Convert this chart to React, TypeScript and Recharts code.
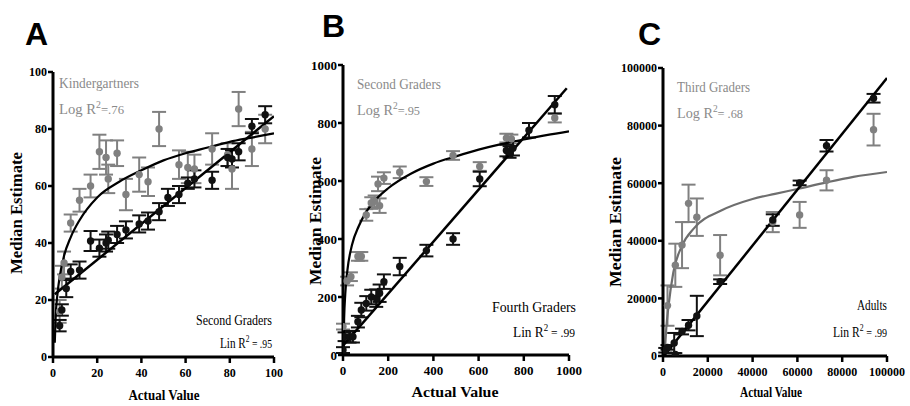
import React from "react";
import { ComposedChart, Scatter, Line, XAxis, YAxis, ErrorBar } from "recharts";

// ---- Panel A (0-100) ----
const aTicks = [0, 20, 40, 60, 80, 100];
const aKindX = [3, 4, 5, 8, 12, 17, 21, 24, 25, 29, 33, 39, 43, 48, 57, 61, 64, 72, 79, 81, 84, 90, 96];
const aKindY = [16, 28, 33, 47, 55, 60, 72, 70, 62.5, 71.5, 57, 64, 61.5, 80, 67.5, 66.5, 66, 73, 71, 66, 87, 73, 80];
const aKindErr = [4, 4, 4, 3, 4, 4, 6, 6, 5, 4.5, 5.5, 6, 5, 6, 5, 5.5, 5, 5.5, 4, 7, 6, 6, 5];
const aSecX = [3, 4, 6, 8, 12, 17, 21, 24, 25, 29, 33, 39, 43, 48, 52, 57, 61, 64, 72, 79, 81, 84, 90, 96];
const aSecY = [11, 16.5, 24, 30, 30.5, 40.7, 38.2, 40, 41, 43, 44.6, 46.7, 47.7, 51, 56, 57, 61, 62.5, 62, 70, 69.5, 72, 81, 85];
const aSecErr = [2, 2, 3, 2.5, 3, 3.5, 3, 3, 3, 3, 3, 3, 3, 3, 3, 3, 2, 3, 3, 3, 3, 3, 2.5, 3];
const aLogX = [0.8, 1.2, 2, 3, 5, 8, 12, 20, 30, 40, 50, 60, 70, 80, 90, 100];
const aLogY = [5, 14, 22, 28, 35.5, 42, 48, 56, 61.5, 65.5, 69, 71.5, 73.5, 75.5, 77, 78.5];
const aLinX = [0.8, 100];
const aLinY = [22, 84.5];

// ---- Panel B (0-1000) ----
const bTicks = [0, 200, 400, 600, 800, 1000];
const bSecX = [0, 18, 35, 66, 81, 103, 125, 140, 155, 162, 181, 251, 369, 487, 605, 723, 745, 937];
const bSecY = [98, 255, 270, 340, 340, 483, 524, 530, 590, 515, 610, 630, 598, 688, 650, 748, 745, 817];
const bSecErr = [10, 15, 15, 15, 15, 20, 20, 20, 25, 25, 20, 20, 15, 15, 15, 15, 15, 15];
const bFourX = [0, 7, 29, 44, 66, 81, 103, 125, 147, 162, 181, 251, 369, 487, 605, 723, 737, 752, 823, 937];
const bFourY = [17, 63, 63, 63, 115, 155, 178, 200, 196, 213, 253, 305, 360, 400, 607, 705, 700, 713, 775, 863];
const bFourErr = [10, 15, 20, 20, 20, 25, 25, 25, 30, 30, 25, 30, 20, 20, 25, 20, 20, 25, 25, 30];
const bLogX = [2, 5, 10, 20, 40, 70, 100, 150, 200, 300, 400, 500, 600, 700, 800, 900, 1000];
const bLogY = [15, 125, 210, 295, 380, 445, 490, 540, 575, 625, 660, 685, 708, 727, 743, 758, 771];
const bLinX = [0, 990];
const bLinY = [32, 920];

// ---- Panel C (0-100000) ----
const cTicks = [0, 20000, 40000, 60000, 80000, 100000];
const cThirdX = [2000, 5500, 8500, 11400, 15100, 25500, 49000, 61000, 73000, 94000];
const cThirdY = [17500, 31500, 38500, 53000, 48200, 35000, 46500, 49000, 61000, 78600];
const cThirdErr = [7000, 7500, 8000, 6500, 6500, 7000, 3500, 4500, 3500, 5500];
const cAdultX = [1000, 2000, 5000, 5500, 8500, 11400, 15100, 25500, 49000, 61000, 73000, 94000];
const cAdultY = [2000, 3000, 4500, 500, 8500, 10700, 13900, 25800, 47200, 60100, 73000, 89500];
const cAdultErr = [800, 800, 3500, 500, 1000, 1800, 7000, 800, 2000, 800, 2000, 1500];
const cLogX = [700, 1000, 1500, 2400, 4600, 8300, 14000, 26000, 40000, 50000, 60000, 73000, 85000, 100000];
const cLogY = [1000, 4000, 10000, 17000, 29000, 38000, 44500, 50500, 54500, 56300, 58000, 60300, 62200, 63900];
const cLinX = [400, 100000];
const cLinY = [0, 96500];

const pts = (xs: number[], ys: number[], es?: number[]) =>
  xs.map((x, i) => ({ x, y: ys[i], err: es ? es[i] : 0 }));

const serif = "Liberation Serif";
const GRAY = "#808080";
const GRAY_TXT = "#8a8a8a";

interface PanelProps {
  box: { l: number; r: number; t: number; b: number };
  max: number;
  ticks: number[];
  tickSize: number;
  gray: { x: number; y: number; err: number }[];
  black: { x: number; y: number; err: number }[];
  logCurve: { x: number; y: number }[];
  linCurve: { x: number; y: number }[];
  logColor: string;
}

function Panel({ box, max, ticks, tickSize, gray, black, logCurve, linCurve, logColor }: PanelProps) {
  const dot = (color: string) => (p: any) => <circle cx={p.cx} cy={p.cy} r={3.7} fill={color} />;
  const xTick = (p: any) => (
    <text x={p.x} y={p.y} dy="0.71em" textAnchor="middle" fontFamily={serif} fontWeight={700} fontSize={tickSize} fill="#000">
      {p.payload.value}
    </text>
  );
  const yTick = (p: any) => (
    <text x={p.x} y={p.y} dy="0.36em" textAnchor="end" fontFamily={serif} fontWeight={700} fontSize={tickSize} fill="#000">
      {p.payload.value}
    </text>
  );
  return (
    <div style={{ position: "absolute", left: box.l - 50, top: box.t - 10 }}>
      <ComposedChart
        width={box.r - box.l + 75}
        height={box.b - box.t + 50}
        margin={{ top: 10, right: 25, bottom: 0, left: 0 }}
      >
        <XAxis
          type="number"
          dataKey="x"
          domain={[0, max]}
          ticks={ticks}
          interval={0}
          allowDataOverflow
          height={40}
          axisLine={{ stroke: "#000", strokeWidth: 3 }}
          tickLine={{ stroke: "#000", strokeWidth: 2.5 }}
          tickSize={6}
          tickMargin={5}
          tick={xTick}
        />
        <YAxis
          type="number"
          dataKey="y"
          domain={[0, max]}
          ticks={ticks}
          interval={0}
          allowDataOverflow
          width={50}
          axisLine={{ stroke: "#000", strokeWidth: 3 }}
          tickLine={{ stroke: "#000", strokeWidth: 2.5 }}
          tickSize={5}
          tickMargin={1}
          tick={yTick}
        />
        <Scatter data={gray} dataKey="y" shape={dot(GRAY)} isAnimationActive={false}>
          <ErrorBar dataKey="err" direction="y" width={7} stroke={GRAY} strokeWidth={2} />
        </Scatter>
        <Scatter data={black} dataKey="y" shape={dot("#111")} isAnimationActive={false}>
          <ErrorBar dataKey="err" direction="y" width={7} stroke="#111" strokeWidth={2} />
        </Scatter>
        <Line
          data={logCurve}
          dataKey="y"
          type="monotone"
          stroke={logColor}
          strokeWidth={2.2}
          dot={false}
          activeDot={false}
          isAnimationActive={false}
        />
        <Line
          data={linCurve}
          dataKey="y"
          type="linear"
          stroke="#000"
          strokeWidth={2.5}
          dot={false}
          activeDot={false}
          isAnimationActive={false}
        />
      </ComposedChart>
    </div>
  );
}

function RText({ x, y, anchor, fill, len, lead, tail }: any) {
  return (
    <text
      x={x}
      y={y}
      textAnchor={anchor}
      fill={fill}
      fontFamily={serif}
      fontSize={15}
      textLength={len}
      lengthAdjust="spacingAndGlyphs"
    >
      {lead}
      <tspan dy={-6} fontSize={10}>2</tspan>
      <tspan dy={6} fontSize={13}>{tail}</tspan>
    </text>
  );
}

function Plain({ x, y, anchor = "start", fill = "#000", len, size = 15, bold = false, children }: any) {
  return (
    <text
      x={x}
      y={y}
      textAnchor={anchor}
      fill={fill}
      fontFamily={serif}
      fontSize={size}
      fontWeight={bold ? 700 : 400}
      textLength={len}
      lengthAdjust="spacingAndGlyphs"
    >
      {children}
    </text>
  );
}

function VTitle({ cx, cy, len }: any) {
  return (
    <text
      transform={`translate(${cx},${cy}) rotate(-90)`}
      textAnchor="middle"
      dominantBaseline="central"
      fontFamily={serif}
      fontSize={16}
      fontWeight={700}
      textLength={len}
      lengthAdjust="spacingAndGlyphs"
    >
      Median Estimate
    </text>
  );
}

export default function App() {
  const letter = { fontFamily: "Liberation Sans", fontWeight: 700, fontSize: 32 };
  return (
    <div style={{ position: "absolute", left: 0, top: 0, width: 910, height: 406, background: "#fff" }}>
      <Panel
        box={{ l: 53, r: 274, t: 72, b: 357 }}
        max={100}
        ticks={aTicks}
        tickSize={12}
        gray={pts(aKindX, aKindY, aKindErr)}
        black={pts(aSecX, aSecY, aSecErr)}
        logCurve={pts(aLogX, aLogY)}
        linCurve={pts(aLinX, aLinY)}
        logColor="#000"
      />
      <Panel
        box={{ l: 343, r: 569, t: 65, b: 355 }}
        max={1000}
        ticks={bTicks}
        tickSize={13}
        gray={pts(bSecX, bSecY, bSecErr)}
        black={pts(bFourX, bFourY, bFourErr)}
        logCurve={pts(bLogX, bLogY)}
        linCurve={pts(bLinX, bLinY)}
        logColor="#000"
      />
      <Panel
        box={{ l: 663, r: 887, t: 68, b: 356 }}
        max={100000}
        ticks={cTicks}
        tickSize={12}
        gray={pts(cThirdX, cThirdY, cThirdErr)}
        black={pts(cAdultX, cAdultY, cAdultErr)}
        logCurve={pts(cLogX, cLogY)}
        linCurve={pts(cLinX, cLinY)}
        logColor="#6e6e6e"
      />
      <svg
        width={910}
        height={406}
        style={{ position: "absolute", left: 0, top: 0, pointerEvents: "none" }}
      >
        <text x={25} y={45} {...letter}>A</text>
        <text x={322} y={37} {...letter}>B</text>
        <text x={638} y={45} {...letter}>C</text>

        <VTitle cx={16} cy={213} len={122} />
        <VTitle cx={315} cy={221} len={128} />
        <VTitle cx={615} cy={222} len={130} />
        <Plain x={164} y={400} anchor="middle" bold len={71}>Actual Value</Plain>
        <Plain x={455} y={397} anchor="middle" bold len={87}>Actual Value</Plain>
        <Plain x={771} y={397} anchor="middle" bold len={62}>Actual Value</Plain>

        <Plain x={59} y={88} fill={GRAY_TXT} len={80}>Kindergartners</Plain>
        <RText x={59} y={114} anchor="start" fill={GRAY_TXT} len={65} lead="Log R" tail="=.76" />
        <Plain x={272} y={325} anchor="end" len={76}>Second Graders</Plain>
        <RText x={272} y={348} anchor="end" fill="#000" len={52} lead="Lin R" tail=" = .95" />

        <Plain x={357} y={89} fill={GRAY_TXT} len={84}>Second Graders</Plain>
        <RText x={357} y={115} anchor="start" fill={GRAY_TXT} len={63} lead="Log R" tail="=.95" />
        <Plain x={576} y={312} anchor="end" len={84}>Fourth Graders</Plain>
        <RText x={575} y={337} anchor="end" fill="#000" len={62} lead="Lin R" tail=" = .99" />

        <Plain x={677} y={92} fill={GRAY_TXT} len={73}>Third Graders</Plain>
        <RText x={677} y={118} anchor="start" fill={GRAY_TXT} len={66} lead="Log R" tail="= .68" />
        <Plain x={887} y={310} anchor="end" len={30}>Adults</Plain>
        <RText x={887} y={337} anchor="end" fill="#000" len={54} lead="Lin R" tail=" = .99" />
      </svg>
    </div>
  );
}
